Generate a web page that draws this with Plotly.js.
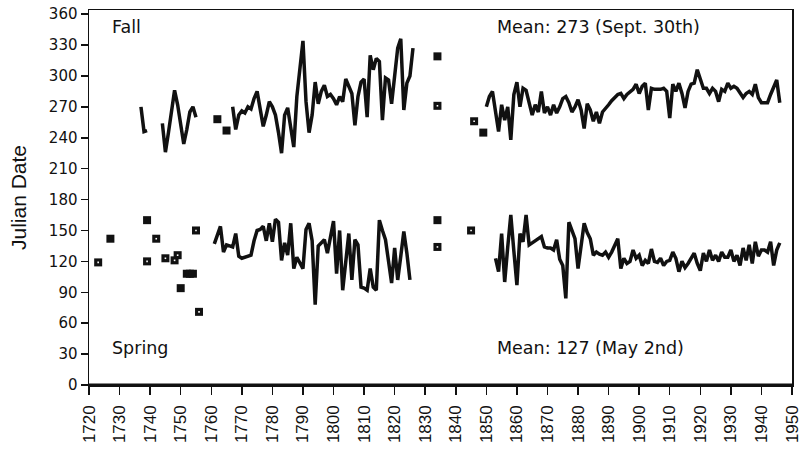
<!DOCTYPE html>
<html>
<head>
<meta charset="utf-8">
<script src="https://cdn.plot.ly/plotly-3.0.1.min.js"></script>
<style>html,body{margin:0;padding:0;background:#fff;}#chart{width:807px;height:454px;}</style>
</head>
<body>
<div id="chart"></div>
<script>
// ---- Fall (line segments, annual values) ----
const fallSeg1Start = 1737;
const fallSeg1 = [270, 246, 247];
const fallSeg2Start = 1744;
const fallSeg2 = [254, 226, 245, 268, 286, 272, 250, 234, 248, 265, 270, 260];
const fallSeg3Start = 1767;
const fallSeg3 = [270, 248, 262, 266, 264, 270, 268, 278, 285, 268,
                  251, 262, 275, 270, 262, 245, 225, 262, 269, 250,
                  231, 280, 310, 334, 275, 245, 262, 294, 273, 285,
                  291, 280, 282, 278, 272, 280, 275, 297, 290, 283,
                  252, 280, 294, 297, 260, 320, 306, 317, 314, 257,
                  298, 296, 273, 300, 327, 336, 267, 293, 300, 327];
const fallSeg4Start = 1850;
const fallSeg4 = [270, 280, 285, 264, 246, 272, 257, 270, 238, 282,
                  294, 270, 288, 286, 275, 262, 272, 265, 285, 264,
                  270, 262, 272, 264, 270, 278, 280, 274, 265, 270,
                  277, 267, 249, 273, 267, 256, 265, 254, 265, 268,
                  272, 276, 279, 282, 283, 278, 282, 285, 287, 292,
                  283, 290, 293, 267, 288, 287, 287, 287, 288, 285,
                  259, 292, 285, 293, 283, 269, 285, 292, 293, 306,
                  297, 288, 288, 283, 288, 285, 275, 287, 285, 293,
                  288, 290, 288, 283, 279, 283, 285, 282, 292, 279,
                  274, 274, 274, 282, 290, 296, 274];

// ---- Spring (line segments, annual values) ----
const springSeg1Start = 1761;
const springSeg1 = [137, 146, 154, 129, 136, 135, 134, 147, 125, 123,
                    124, 125, 126, 140, 150, 151, 154, 140, 157, 139,
                    161, 158, 121, 138, 126, 157, 113, 124, 118, 113,
                    151, 157, 140, 78, 135, 138, 141, 128, 145, 159,
                    108, 150, 92, 124, 147, 102, 141, 136, 95, 94,
                    92, 113, 95, 92, 160, 150, 141, 120, 99, 133,
                    102, 125, 149, 128, 102];
const springSeg2Start = 1853;
const springSeg2 = [123, 110, 147, 100, 134, 165, 130, 97, 147, 139,
                    165, 136, 138, 140, 142, 144, 134, 133, 133, 131,
                    141, 122, 116, 84, 158, 150, 142, 113, 135, 157,
                    148, 142, 126, 129, 127, 126, 129, 124, 129, 136,
                    142, 113, 123, 118, 120, 131, 123, 126, 116, 121,
                    118, 132, 120, 119, 123, 116, 120, 121, 129, 123,
                    110, 120, 114, 118, 123, 128, 118, 111, 128, 120,
                    131, 121, 126, 120, 129, 124, 124, 131, 120, 126,
                    116, 133, 121, 136, 118, 139, 125, 131, 131, 129,
                    139, 116, 131, 138];

// ---- Isolated observations (squares) ----
const solidYears  = [1762, 1765, 1834, 1849, 1727, 1739, 1750, 1752, 1753, 1754, 1834];
const solidValues = [258, 247, 319, 245, 142, 160, 94, 108, 108, 108, 160];
const dotYears    = [1834, 1846, 1723, 1739, 1742, 1745, 1748, 1749, 1755, 1756, 1834, 1845];
const dotValues   = [271, 256, 119, 120, 142, 123, 121, 126, 150, 71, 134, 150];

// ---- Axis ticks & labels ----
const xTicks = [1720,1730,1740,1750,1760,1770,1780,1790,1800,1810,1820,1830,1840,1850,1860,1870,1880,1890,1900,1910,1920,1930,1940,1950];
const yTicks = [0,30,60,90,120,150,180,210,240,270,300,330,360];
const labels = {fall:"Fall", fallMean:"Mean: 273 (Sept. 30th)", spring:"Spring", springMean:"Mean: 127 (May 2nd)", yTitle:"Julian Date"};

function yearsFrom(start, arr){ return arr.map((_, i) => start + i); }
function lineTrace(start, arr){
  return {x: yearsFrom(start, arr), y: arr, mode: 'lines', type: 'scatter',
          line: {color: '#111', width: 3.5, shape: 'linear'}, hoverinfo: 'x+y', showlegend: false};
}

const traces = [
  lineTrace(fallSeg1Start, fallSeg1),
  lineTrace(fallSeg2Start, fallSeg2),
  lineTrace(fallSeg3Start, fallSeg3),
  lineTrace(fallSeg4Start, fallSeg4),
  lineTrace(springSeg1Start, springSeg1),
  lineTrace(springSeg2Start, springSeg2),
  {x: solidYears, y: solidValues, mode: 'markers', type: 'scatter', showlegend: false,
   marker: {symbol: 'square', size: 8, color: '#111'}},
  {x: dotYears, y: dotValues, mode: 'markers', type: 'scatter', showlegend: false,
   marker: {symbol: 'square', size: 8, color: '#111'}},
  {x: dotYears, y: dotValues, mode: 'markers', type: 'scatter', showlegend: false, hoverinfo: 'skip',
   marker: {symbol: 'square', size: 1.6, color: '#fff'}}
];

const annFont = {family: 'DejaVu Sans, Arial, sans-serif', size: 17.5, color: '#111'};
const layout = {
  width: 807, height: 454,
  margin: {l: 89, r: 15, t: 10, b: 69},
  paper_bgcolor: '#fff', plot_bgcolor: '#fff',
  showlegend: false,
  xaxis: {
    range: [1720, 1950], tickvals: xTicks, ticktext: xTicks.map(String),
    tickangle: -90, ticks: 'outside', ticklen: 8, tickwidth: 1.5, tickcolor: '#111',
    showline: true, linecolor: '#111', linewidth: 1.5, mirror: true,
    showgrid: false, zeroline: false,
    tickfont: {family: 'Liberation Sans, Arial, sans-serif', size: 17, color: '#111'},
    ticklabelstandoff: 4
  },
  yaxis: {
    range: [0, 364], tickvals: yTicks, ticktext: yTicks.map(String),
    ticks: 'outside', ticklen: 7, tickwidth: 1.5, tickcolor: '#111',
    showline: true, linecolor: '#111', linewidth: 1.5, mirror: true,
    showgrid: false, zeroline: false,
    tickfont: {family: 'DejaVu Sans, Arial, sans-serif', size: 15, color: '#111'},
    title: {text: labels.yTitle, font: {family: 'Liberation Sans, Arial, sans-serif', size: 21, color: '#111'}, standoff: 16}
  },
  shapes: [
    {type: 'line', xref: 'paper', yref: 'y', x0: 0, x1: 1, y0: 0, y1: 0, line: {color: '#111', width: 3}}
  ],
  annotations: [
    {text: labels.fall, xref: 'paper', yref: 'paper', x: 0.03, y: 0.955, xanchor: 'left', yanchor: 'middle', showarrow: false, font: annFont},
    {text: labels.fallMean, xref: 'paper', yref: 'paper', x: 0.577, y: 0.955, xanchor: 'left', yanchor: 'middle', showarrow: false, font: annFont},
    {text: labels.spring, xref: 'paper', yref: 'paper', x: 0.03, y: 0.1, xanchor: 'left', yanchor: 'middle', showarrow: false, font: annFont},
    {text: labels.springMean, xref: 'paper', yref: 'paper', x: 0.577, y: 0.1, xanchor: 'left', yanchor: 'middle', showarrow: false, font: annFont}
  ]
};

Plotly.newPlot('chart', traces, layout, {staticPlot: true, displayModeBar: false});
</script>
</body>
</html>
